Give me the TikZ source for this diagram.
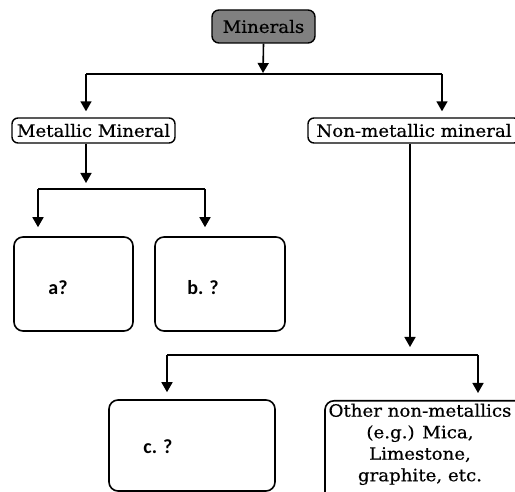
\documentclass[tikz,border=0pt]{standalone}
\usepackage{fontspec}
\setmainfont{DejaVu Serif}[FakeStretch=1.07, FakeBold=0.6]
\newfontfamily\labfont{Carlito}
\usetikzlibrary{arrows.meta}
\begin{document}
\begin{tikzpicture}[x=1pt,y=-1pt,
  line width=1.6pt,
  arr/.style={-{Triangle[width=11pt,length=10pt]}},
  box/.style={draw, rounded corners=9pt, inner sep=0pt, line width=1.6pt},
  tbox/.style={draw, rounded corners=6pt, inner sep=0pt, line width=1.4pt, font=\fontsize{17}{19}\selectfont},
  lab/.style={inner sep=0pt, font=\labfont\bfseries\fontsize{20}{24}\selectfont},
  txt/.style={inner sep=0pt, font=\fontsize{17}{21.5}\selectfont, align=center}]
\useasboundingbox (0,0) rectangle (515,492);
\clip (0,0) rectangle (515,492);

% top
\node[tbox, fill=black!50, minimum width=103pt, minimum height=33pt, rounded corners=7pt] (min) at (263.5,26.5) {Minerals};
\node[tbox, minimum width=163pt, minimum height=25pt] (met) at (93.5,130.5) {Metallic Mineral};
\node[tbox, minimum width=212pt, minimum height=25pt] (non) at (414,130.5) {Non-metallic mineral};

% level 2 boxes
\node[box, minimum width=119pt, minimum height=94pt] (a) at (73.5,284) {};
\node[box, minimum width=130pt, minimum height=94pt] (b) at (220,284) {};
\node[lab] (atxt) at (58,288) {a?};
\node[lab] (btxt) at (203,288) {b. ?};

% level 3 boxes
\node[box, minimum width=166pt, minimum height=91pt] (c) at (192,445.5) {};
\node[lab] (ctxt) at (158,447) {c. ?};
\node[box, minimum width=200pt, minimum height=120pt, anchor=north] (o) at (425,400) {};
\node[txt, anchor=north] (otxt) at (420,403) {Other non-metallics\\(e.g.) Mica,\\Limestone,\\graphite, etc.};

% junctions
\coordinate (j1) at (263,74);
\coordinate (j1l) at (86,74);
\coordinate (j1r) at (442,74);
\coordinate (j2) at (86,189);
\coordinate (j2l) at (38,189);
\coordinate (j2r) at (205,189);
\coordinate (j3) at (410,355);
\coordinate (j3l) at (167,355);
\coordinate (j3r) at (478,355);

\draw[arr, shorten >=1pt] (min.south) -- (j1);
\draw (j1l) -- (j1r);
\draw[arr, shorten >=6pt] (j1l) -- (j1l |- met.north);
\draw[arr, shorten >=6pt] (j1r) -- (j1r |- non.north);

\draw[arr, shorten >=6pt] (met.south -| j2) -- (j2);
\draw (j2l) -- (j2r);
\draw[arr, shorten >=9pt] (j2l) -- (j2l |- a.north);
\draw[arr, shorten >=9pt] (j2r) -- (j2r |- b.north);

\draw[arr, shorten >=8pt] (non.south -| j3) -- (j3);
\draw (j3l) -- (j3r);
\draw[arr, shorten >=7pt] (j3l) -- (j3l |- c.north);
\draw[arr, shorten >=7pt] (j3r) -- (j3r |- o.north);
\end{tikzpicture}
\end{document}
